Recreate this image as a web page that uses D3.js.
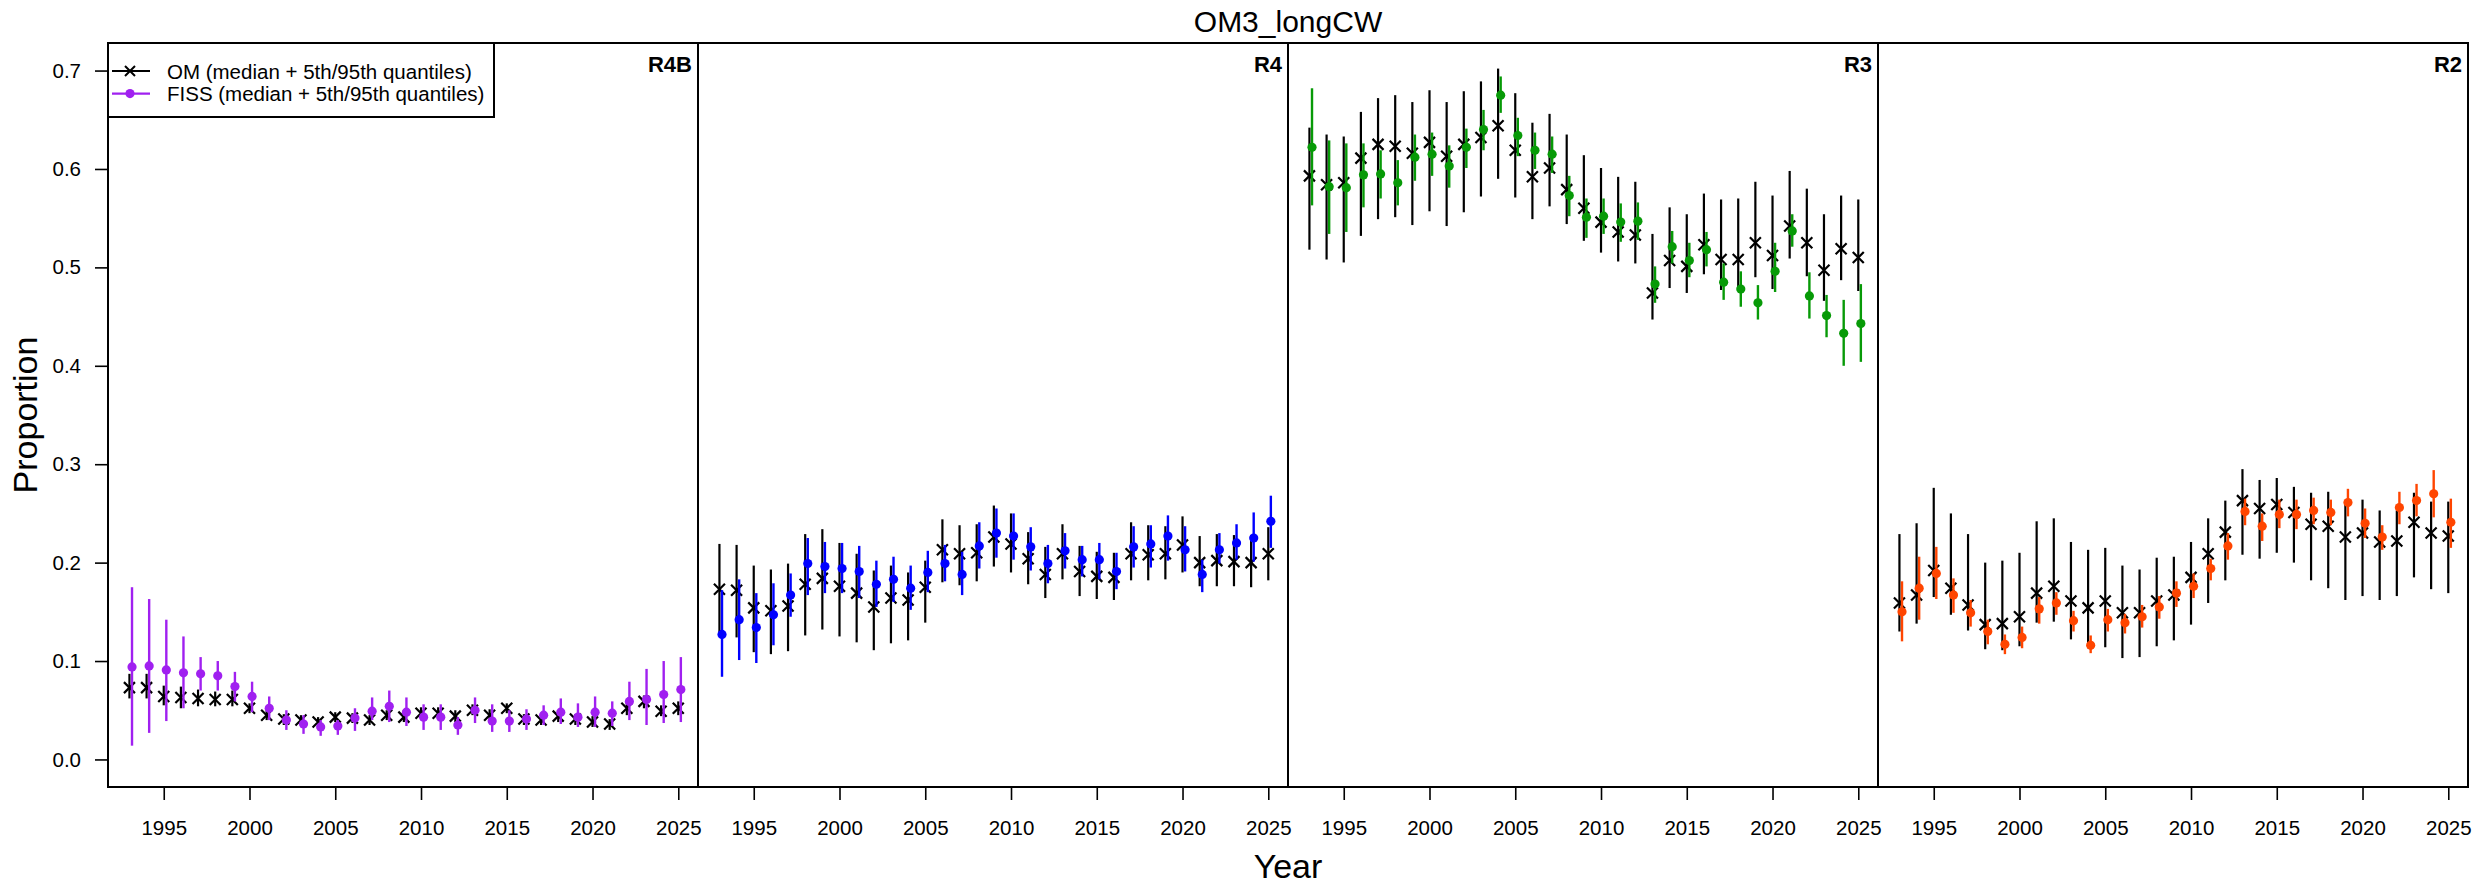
<!DOCTYPE html>
<meta charset="utf-8">
<head>
  <script src="https://cdn.jsdelivr.net/npm/d3@7"></script>
  <style>
    body { margin: 0; background: #fff; }
    text { font-family: "Liberation Sans", Arial, sans-serif; fill: #000; }
  </style>
</head>
<body>
<script type="text/javascript">

// ---- data ----
var years = d3.range(1993, 2026);
var regiones = ["R4B", "R4", "R3", "R2"];
var fissColors = ["#a020f0", "#0000ff", "#079a07", "#ff4500"];
var yTicks = [0, 0.1, 0.2, 0.3, 0.4, 0.5, 0.6, 0.7];
var xTicks = [1995, 2000, 2005, 2010, 2015, 2020, 2025];

// R4B
var omMidR4B  = [0.073,0.073,0.064,0.063,0.062,0.061,0.061,0.052,0.045,0.041,0.040,0.038,0.043,0.042,0.040,0.045,0.043,0.047,0.047,0.044,0.050,0.045,0.052,0.041,0.040,0.044,0.041,0.038,0.036,0.052,0.059,0.049,0.052];
var omLoR4B   = [0.062,0.062,0.055,0.052,0.054,0.054,0.054,0.047,0.040,0.035,0.035,0.033,0.038,0.037,0.035,0.040,0.038,0.042,0.041,0.038,0.045,0.040,0.047,0.035,0.035,0.038,0.035,0.033,0.030,0.045,0.052,0.044,0.045];
var omHiR4B   = [0.087,0.087,0.075,0.074,0.071,0.069,0.070,0.057,0.050,0.046,0.045,0.043,0.048,0.047,0.045,0.050,0.050,0.053,0.053,0.050,0.056,0.051,0.057,0.046,0.045,0.050,0.046,0.044,0.041,0.059,0.065,0.055,0.059];
var fissMidR4B = [0.094,0.095,0.091,0.088,0.087,0.085,0.074,0.064,0.052,0.040,0.036,0.033,0.034,0.042,0.049,0.054,0.048,0.043,0.043,0.035,0.050,0.039,0.039,0.041,0.045,0.048,0.043,0.048,0.047,0.059,0.061,0.066,0.071];
var fissLoR4B  = [0.014,0.027,0.039,0.052,0.070,0.070,0.059,0.048,0.040,0.030,0.026,0.024,0.025,0.029,0.040,0.038,0.034,0.030,0.030,0.025,0.037,0.028,0.028,0.030,0.035,0.036,0.033,0.033,0.034,0.040,0.035,0.037,0.038];
var fissHiR4B  = [0.175,0.163,0.142,0.125,0.104,0.100,0.089,0.079,0.064,0.050,0.045,0.040,0.040,0.052,0.063,0.070,0.063,0.056,0.056,0.043,0.063,0.056,0.050,0.051,0.055,0.062,0.057,0.064,0.059,0.079,0.092,0.100,0.104];

// R4
var omMidR4  = [0.173,0.172,0.154,0.151,0.156,0.178,0.184,0.176,0.169,0.155,0.164,0.162,0.175,0.213,0.209,0.210,0.226,0.219,0.204,0.188,0.209,0.191,0.186,0.185,0.209,0.208,0.209,0.218,0.200,0.202,0.201,0.200,0.209];
var omLoR4   = [0.128,0.124,0.109,0.107,0.110,0.126,0.132,0.125,0.119,0.111,0.118,0.121,0.139,0.180,0.177,0.181,0.196,0.190,0.178,0.164,0.183,0.166,0.163,0.162,0.182,0.182,0.183,0.190,0.176,0.176,0.176,0.175,0.182];
var omHiR4   = [0.219,0.218,0.197,0.193,0.199,0.229,0.234,0.220,0.209,0.192,0.197,0.190,0.202,0.244,0.238,0.239,0.258,0.250,0.231,0.216,0.239,0.217,0.211,0.210,0.241,0.238,0.237,0.247,0.227,0.229,0.228,0.228,0.236];
var fissMidR4 = [0.127,0.142,0.134,0.147,0.167,0.199,0.196,0.194,0.191,0.178,0.183,0.174,0.190,0.199,0.188,0.217,0.230,0.227,0.216,0.199,0.212,0.203,0.203,0.191,0.216,0.219,0.227,0.213,0.188,0.213,0.220,0.225,0.242];
var fissLoR4  = [0.084,0.101,0.098,0.116,0.145,0.167,0.169,0.169,0.164,0.155,0.160,0.152,0.170,0.181,0.167,0.194,0.205,0.203,0.192,0.179,0.194,0.186,0.183,0.173,0.195,0.195,0.202,0.191,0.170,0.199,0.203,0.201,0.215];
var fissHiR4  = [0.172,0.183,0.169,0.179,0.189,0.225,0.221,0.220,0.217,0.202,0.206,0.197,0.212,0.218,0.211,0.241,0.255,0.250,0.236,0.218,0.230,0.217,0.220,0.210,0.237,0.238,0.248,0.237,0.203,0.230,0.239,0.251,0.268];

// R3
var omMidR3  = [0.593,0.584,0.586,0.611,0.625,0.623,0.616,0.627,0.613,0.625,0.632,0.644,0.619,0.592,0.601,0.579,0.560,0.546,0.536,0.533,0.474,0.507,0.501,0.523,0.508,0.508,0.525,0.512,0.542,0.525,0.497,0.519,0.510];
var omLoR3   = [0.518,0.508,0.505,0.532,0.549,0.551,0.543,0.557,0.542,0.556,0.572,0.590,0.571,0.549,0.562,0.544,0.527,0.515,0.506,0.504,0.447,0.479,0.474,0.493,0.477,0.478,0.490,0.478,0.509,0.491,0.466,0.487,0.476];
var omHiR3   = [0.642,0.635,0.633,0.658,0.672,0.675,0.668,0.680,0.668,0.679,0.689,0.702,0.677,0.647,0.656,0.635,0.614,0.601,0.592,0.587,0.534,0.561,0.554,0.575,0.569,0.570,0.587,0.573,0.598,0.580,0.554,0.573,0.569];
var fissMidR3 = [0.622,0.582,0.581,0.594,0.595,0.586,0.612,0.615,0.603,0.622,0.640,0.675,0.634,0.619,0.615,0.573,0.551,0.552,0.546,0.547,0.483,0.521,0.507,0.518,0.485,0.478,0.464,0.496,0.537,0.471,0.451,0.433,0.443];
var fissLoR3  = [0.563,0.534,0.536,0.561,0.570,0.563,0.588,0.593,0.581,0.601,0.619,0.657,0.613,0.600,0.596,0.552,0.530,0.534,0.526,0.528,0.464,0.504,0.490,0.501,0.467,0.460,0.447,0.475,0.521,0.448,0.429,0.400,0.404];
var fissHiR3  = [0.682,0.629,0.626,0.626,0.619,0.609,0.635,0.637,0.624,0.641,0.660,0.694,0.652,0.637,0.633,0.593,0.570,0.570,0.565,0.566,0.501,0.537,0.525,0.536,0.504,0.496,0.482,0.525,0.554,0.495,0.472,0.467,0.483];

// R2
var omMidR2  = [0.159,0.167,0.192,0.174,0.157,0.137,0.138,0.145,0.169,0.176,0.161,0.154,0.161,0.149,0.149,0.161,0.167,0.185,0.209,0.231,0.263,0.255,0.259,0.251,0.239,0.237,0.226,0.230,0.221,0.222,0.241,0.230,0.227];
var omLoR2   = [0.130,0.138,0.165,0.147,0.131,0.112,0.111,0.115,0.139,0.140,0.122,0.113,0.114,0.103,0.104,0.115,0.121,0.137,0.159,0.182,0.208,0.204,0.210,0.200,0.182,0.174,0.162,0.166,0.162,0.166,0.185,0.173,0.169];
var omHiR2   = [0.229,0.240,0.276,0.250,0.229,0.200,0.202,0.210,0.242,0.245,0.221,0.213,0.215,0.197,0.193,0.205,0.206,0.221,0.245,0.263,0.295,0.284,0.286,0.277,0.271,0.272,0.259,0.264,0.253,0.253,0.271,0.262,0.262];
var fissMidR2 = [0.150,0.174,0.189,0.167,0.149,0.130,0.117,0.124,0.153,0.159,0.141,0.116,0.142,0.139,0.145,0.155,0.169,0.176,0.194,0.217,0.252,0.237,0.249,0.249,0.253,0.251,0.261,0.240,0.226,0.256,0.263,0.270,0.241];
var fissLoR2  = [0.120,0.142,0.163,0.149,0.135,0.117,0.107,0.113,0.138,0.147,0.130,0.108,0.130,0.128,0.134,0.143,0.155,0.164,0.182,0.203,0.238,0.222,0.235,0.234,0.239,0.238,0.247,0.225,0.213,0.239,0.247,0.246,0.215];
var fissHiR2  = [0.181,0.206,0.216,0.184,0.162,0.142,0.127,0.135,0.165,0.170,0.151,0.126,0.153,0.148,0.157,0.166,0.181,0.189,0.204,0.230,0.265,0.250,0.264,0.264,0.266,0.264,0.275,0.255,0.238,0.272,0.280,0.294,0.265];

var omSeries = [[omMidR4B, omLoR4B, omHiR4B], [omMidR4, omLoR4, omHiR4], [omMidR3, omLoR3, omHiR3], [omMidR2, omLoR2, omHiR2]];
var fissSeries = [[fissMidR4B, fissLoR4B, fissHiR4B], [fissMidR4, fissLoR4, fissHiR4], [fissMidR3, fissLoR3, fissHiR3], [fissMidR2, fissLoR2, fissHiR2]];

// ---- layout ----
var w = 2491;
var h = 887;
var plotLeft = 108, plotRight = 2468, plotTop = 43, plotBottom = 787;
var pw = (plotRight - plotLeft) / 4;
var fissOffset = 0.15;
var fnt = "Liberation Sans, Arial, sans-serif";

var svg = d3.select("body").append("svg")
    .attr("width", w)
    .attr("height", h);

var yScale = d3.scaleLinear().domain([-0.028, 0.728]).range([plotBottom, plotTop]);

// a row per year, per panel
var panels = regiones.map(function(r, i) {
  return {
    name: r,
    color: fissColors[i],
    om: years.map(function(yr, j) { return {yr: yr, mid: omSeries[i][0][j], lo: omSeries[i][1][j], hi: omSeries[i][2][j]}; }),
    fiss: years.map(function(yr, j) { return {yr: yr + fissOffset, mid: fissSeries[i][0][j], lo: fissSeries[i][1][j], hi: fissSeries[i][2][j]}; })
  };
});

panels.forEach(function(p, i) {
  var x0 = plotLeft + i * pw;
  var x = d3.scaleLinear().domain([1991.75, 2026.15]).range([x0, x0 + pw]);
  var g = svg.append("g");

  // OM: black bars + crosses
  g.selectAll(".omBar").data(p.om).enter().append("line")
    .attr("x1", function(d) { return x(d.yr); })
    .attr("x2", function(d) { return x(d.yr); })
    .attr("y1", function(d) { return yScale(d.lo); })
    .attr("y2", function(d) { return yScale(d.hi); })
    .attr("stroke", "#000").attr("stroke-width", 2.2);

  var s = 5.5;
  g.selectAll(".omPt").data(p.om).enter().append("path")
    .attr("d", function(d) {
      var cx = x(d.yr), cy = yScale(d.mid);
      return "M" + (cx - s) + "," + (cy - s) + "L" + (cx + s) + "," + (cy + s) +
             "M" + (cx - s) + "," + (cy + s) + "L" + (cx + s) + "," + (cy - s);
    })
    .attr("stroke", "#000").attr("stroke-width", 2.2).attr("fill", "none");

  // FISS: coloured bars + dots
  g.selectAll(".fBar").data(p.fiss).enter().append("line")
    .attr("x1", function(d) { return x(d.yr); })
    .attr("x2", function(d) { return x(d.yr); })
    .attr("y1", function(d) { return yScale(d.lo); })
    .attr("y2", function(d) { return yScale(d.hi); })
    .attr("stroke", p.color).attr("stroke-width", 2.4);

  g.selectAll(".fPt").data(p.fiss).enter().append("circle")
    .attr("cx", function(d) { return x(d.yr); })
    .attr("cy", function(d) { return yScale(d.mid); })
    .attr("r", 4.6)
    .attr("fill", p.color);

  // x axis
  var ax = svg.append("g")
    .attr("transform", "translate(0," + plotBottom + ")")
    .call(d3.axisBottom(x).tickValues(xTicks).tickFormat(d3.format("d")).tickSize(13).tickPadding(20));
  ax.select(".domain").remove();
  ax.selectAll("line").attr("stroke", "#000").attr("stroke-width", 1.6);
  ax.selectAll("text").style("font-family", fnt).style("font-size", "20.5px");

  // frame
  svg.append("rect")
    .attr("x", x0).attr("y", plotTop).attr("width", pw).attr("height", plotBottom - plotTop)
    .attr("fill", "none").attr("stroke", "#000").attr("stroke-width", 2);

  // region label
  svg.append("text")
    .attr("x", x0 + pw - 6).attr("y", 72)
    .attr("text-anchor", "end")
    .style("font-size", "22px").style("font-weight", "bold")
    .text(p.name);
});

// y axis
var ay = svg.append("g")
  .attr("transform", "translate(" + plotLeft + ",0)")
  .call(d3.axisLeft(yScale).tickValues(yTicks).tickFormat(d3.format(".1f")).tickSize(13).tickPadding(14));
ay.select(".domain").remove();
ay.selectAll("line").attr("stroke", "#000").attr("stroke-width", 1.6);
ay.selectAll("text").style("font-family", fnt).style("font-size", "20.5px");

// titles
svg.append("text")
  .attr("x", (plotLeft + plotRight) / 2).attr("y", 32)
  .attr("text-anchor", "middle")
  .style("font-size", "30px")
  .text("OM3_longCW");

svg.append("text")
  .attr("x", (plotLeft + plotRight) / 2).attr("y", 878)
  .attr("text-anchor", "middle")
  .style("font-size", "34px")
  .text("Year");

svg.append("text")
  .attr("transform", "translate(37," + (plotTop + plotBottom) / 2 + ") rotate(-90)")
  .attr("text-anchor", "middle")
  .style("font-size", "34px")
  .text("Proportion");

// legend
var leg = svg.append("g");
leg.append("rect")
  .attr("x", plotLeft).attr("y", plotTop).attr("width", 386).attr("height", 74)
  .attr("fill", "#fff").attr("stroke", "#000").attr("stroke-width", 2);

var legItems = [
  {label: "OM (median + 5th/95th quantiles)", color: "#000", shape: "x"},
  {label: "FISS (median + 5th/95th quantiles)", color: fissColors[0], shape: "dot"}
];
legItems.forEach(function(d, i) {
  var ly = 71 + i * 22.6;
  leg.append("line")
    .attr("x1", 112).attr("x2", 150).attr("y1", ly).attr("y2", ly)
    .attr("stroke", d.color).attr("stroke-width", 2.2);
  if (d.shape == "x") {
    leg.append("path")
      .attr("d", "M125," + (ly - 5) + "L135," + (ly + 5) + "M125," + (ly + 5) + "L135," + (ly - 5))
      .attr("stroke", "#000").attr("stroke-width", 2).attr("fill", "none");
  } else {
    leg.append("circle").attr("cx", 130).attr("cy", ly).attr("r", 4.6).attr("fill", d.color);
  }
  leg.append("text")
    .attr("x", 167).attr("y", ly + 7.5)
    .style("font-size", "20.5px")
    .text(d.label);
});

</script>
</body>
